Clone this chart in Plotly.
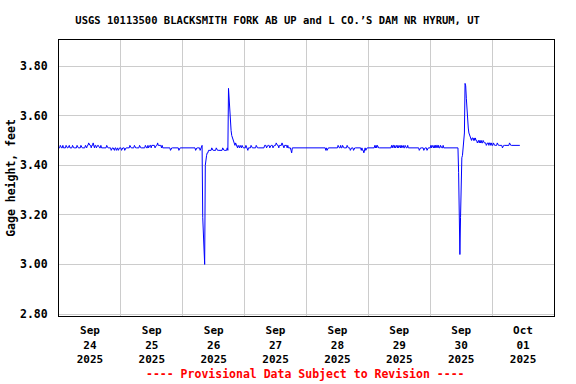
import pandas as pd
import plotly.graph_objects as go

# 15-minute gage-height readings (feet), starting Sep 24 2025 00:00
sep24 = [3.47,3.47,3.48,3.47,3.47,3.47,3.48,3.47,3.47,3.47,3.47,3.48,
         3.47,3.47,3.47,3.48,3.48,3.47,3.47,3.47,3.47,3.48,3.47,3.47,
         3.47,3.47,3.47,3.47,3.48,3.47,3.47,3.47,3.47,3.47,3.48,3.47,
         3.47,3.47,3.47,3.47,3.47,3.48,3.47,3.47,3.48,3.48,3.49,3.48,
         3.48,3.48,3.47,3.48,3.48,3.49,3.48,3.47,3.48,3.48,3.47,3.48,
         3.48,3.48,3.47,3.47,3.47,3.48,3.47,3.47,3.47,3.47,3.47,3.47,
         3.47,3.47,3.48,3.47,3.47,3.47,3.47,3.47,3.47,3.46,3.47,3.47,
         3.47,3.46,3.46,3.47,3.47,3.46,3.47,3.47,3.46,3.47,3.47,3.47]
sep25 = [3.47,3.46,3.47,3.47,3.47,3.47,3.46,3.47,3.47,3.47,3.47,3.47,
         3.47,3.47,3.48,3.47,3.47,3.47,3.47,3.47,3.47,3.48,3.47,3.47,
         3.47,3.47,3.47,3.47,3.47,3.48,3.47,3.47,3.47,3.47,3.47,3.47,
         3.47,3.47,3.48,3.47,3.47,3.47,3.48,3.47,3.48,3.48,3.48,3.47,
         3.48,3.48,3.48,3.48,3.48,3.47,3.48,3.48,3.48,3.49,3.48,3.48,
         3.48,3.48,3.48,3.47,3.48,3.47,3.47,3.47,3.47,3.47,3.47,3.47,
         3.47,3.47,3.47,3.47,3.47,3.46,3.47,3.47,3.47,3.47,3.47,3.47,
         3.47,3.47,3.47,3.47,3.47,3.47,3.46,3.47,3.47,3.47,3.47,3.47]
sep26 = [3.47,3.47,3.47,3.47,3.47,3.47,3.47,3.47,3.47,3.47,3.47,3.47,
         3.47,3.47,3.47,3.47,3.47,3.47,3.47,3.47,3.46,3.47,3.47,3.47,
         3.47,3.47,3.47,3.46,3.47,3.47,3.48,3.19,3.10,3.05,3.00,3.40,
         3.43,3.44,3.45,3.45,3.46,3.46,3.46,3.46,3.46,3.47,3.46,3.46,
         3.46,3.46,3.46,3.46,3.47,3.46,3.46,3.46,3.46,3.46,3.46,3.46,
         3.46,3.46,3.47,3.46,3.46,3.46,3.46,3.46,3.46,3.47,3.46,3.71,
         3.66,3.60,3.56,3.54,3.52,3.51,3.50,3.49,3.49,3.48,3.49,3.48,
         3.48,3.47,3.48,3.47,3.47,3.48,3.47,3.47,3.48,3.47,3.47,3.47]
sep27 = [3.47,3.47,3.48,3.47,3.47,3.46,3.47,3.47,3.47,3.47,3.48,3.47,
         3.47,3.47,3.47,3.47,3.47,3.47,3.48,3.47,3.47,3.47,3.47,3.47,
         3.47,3.47,3.47,3.47,3.47,3.47,3.47,3.48,3.48,3.48,3.47,3.48,
         3.48,3.48,3.48,3.47,3.48,3.48,3.48,3.48,3.47,3.48,3.48,3.48,
         3.48,3.49,3.48,3.48,3.48,3.47,3.48,3.48,3.48,3.48,3.49,3.48,
         3.48,3.47,3.48,3.48,3.48,3.48,3.47,3.48,3.47,3.47,3.47,3.47,
         3.46,3.45,3.47,3.47,3.47,3.47,3.47,3.47,3.47,3.47,3.47,3.47,
         3.47,3.47,3.47,3.47,3.47,3.47,3.47,3.47,3.47,3.47,3.47,3.47]
sep28 = [3.47,3.47,3.47,3.47,3.47,3.47,3.47,3.47,3.47,3.47,3.47,3.47,
         3.47,3.47,3.47,3.47,3.47,3.47,3.47,3.47,3.47,3.47,3.47,3.47,
         3.47,3.47,3.47,3.47,3.47,3.47,3.46,3.47,3.46,3.47,3.47,3.47,
         3.47,3.47,3.47,3.47,3.47,3.47,3.47,3.47,3.47,3.47,3.47,3.47,
         3.47,3.48,3.47,3.47,3.47,3.48,3.47,3.47,3.48,3.47,3.47,3.47,
         3.47,3.47,3.47,3.48,3.47,3.47,3.47,3.47,3.46,3.47,3.47,3.47,
         3.47,3.46,3.47,3.47,3.47,3.47,3.47,3.47,3.47,3.47,3.47,3.47,
         3.47,3.46,3.47,3.46,3.46,3.45,3.46,3.47,3.46,3.47,3.47,3.47]
sep29 = [3.47,3.47,3.47,3.47,3.47,3.47,3.47,3.47,3.47,3.47,3.48,3.47,
         3.48,3.47,3.48,3.47,3.47,3.47,3.47,3.47,3.47,3.47,3.47,3.47,
         3.47,3.47,3.47,3.47,3.47,3.47,3.47,3.47,3.47,3.47,3.47,3.47,
         3.48,3.47,3.48,3.48,3.47,3.48,3.47,3.48,3.48,3.47,3.48,3.47,
         3.48,3.48,3.47,3.48,3.47,3.48,3.48,3.47,3.47,3.48,3.47,3.47,
         3.47,3.48,3.47,3.47,3.47,3.47,3.47,3.47,3.47,3.47,3.47,3.47,
         3.47,3.47,3.47,3.47,3.47,3.47,3.47,3.46,3.47,3.47,3.47,3.47,
         3.47,3.47,3.46,3.47,3.47,3.47,3.47,3.46,3.47,3.47,3.47,3.47]
sep30 = [3.47,3.48,3.47,3.48,3.47,3.47,3.48,3.47,3.48,3.47,3.48,3.48,
         3.47,3.48,3.47,3.47,3.48,3.47,3.47,3.47,3.48,3.47,3.47,3.47,
         3.47,3.47,3.47,3.47,3.47,3.47,3.47,3.47,3.47,3.47,3.47,3.47,
         3.47,3.47,3.47,3.47,3.47,3.47,3.47,3.47,3.37,3.10,3.04,3.19,
         3.42,3.43,3.44,3.47,3.49,3.53,3.73,3.72,3.67,3.62,3.58,3.55,
         3.53,3.52,3.51,3.50,3.50,3.51,3.51,3.50,3.51,3.50,3.51,3.50,
         3.50,3.49,3.50,3.50,3.49,3.50,3.49,3.50,3.49,3.49,3.50,3.49,
         3.49,3.49,3.49,3.48,3.49,3.49,3.49,3.48,3.49,3.49,3.48,3.49]
oct01 = [3.48,3.48,3.49,3.48,3.48,3.48,3.48,3.48,3.49,3.48,3.48,3.48,
         3.48,3.48,3.48,3.48,3.47,3.48,3.48,3.48,3.48,3.48,3.48,3.48,
         3.48,3.48,3.48,3.49,3.48,3.48,3.48,3.48,3.48,3.48,3.48,3.48,
         3.48,3.48,3.48,3.48,3.48,3.48,3.48,3.48]

day_labels = ["Sep<br>24<br>2025", "Sep<br>25<br>2025", "Sep<br>26<br>2025",
              "Sep<br>27<br>2025", "Sep<br>28<br>2025", "Sep<br>29<br>2025",
              "Sep<br>30<br>2025", "Oct<br>01<br>2025"]
title_text = "USGS 10113500 BLACKSMITH FORK AB UP and L CO.\u2019S DAM NR HYRUM, UT"

values = sep24 + sep25 + sep26 + sep27 + sep28 + sep29 + sep30 + oct01
times = pd.date_range("2025-09-24 00:00", periods=len(values), freq="15min")
label_pos = pd.date_range("2025-09-24 12:00", periods=len(day_labels), freq="1D")

FONT = "DejaVu Sans Mono"

fig = go.Figure()
fig.add_trace(go.Scatter(x=times, y=values, mode="lines",
                         line=dict(color="#0000FF", width=1),
                         hoverinfo="skip", showlegend=False))

fig.update_layout(
    width=576, height=384,
    margin=dict(l=59, r=22, t=40, b=68, autoexpand=False),
    paper_bgcolor="white", plot_bgcolor="white",
    title=dict(text="<b>" + title_text + "</b>", xref="container", x=0.482,
               xanchor="center", y=0.948, yanchor="middle",
               font=dict(family=FONT, size=10.5, color="black")),
    font=dict(family=FONT, color="black"),
)

fig.update_xaxes(
    range=["2025-09-24 00:00", "2025-10-02 00:00"], automargin=False,
    tickmode="array", tickvals=label_pos,
    ticktext=["<b>" + t + "</b>" for t in day_labels],
    tickfont=dict(family=FONT, size=11, color="black"),
    showgrid=False, ticks="", zeroline=False, ticklabelstandoff=4,
    showline=True, linecolor="black", linewidth=1, mirror=True,
    minor=dict(tick0="2025-09-24 00:00", dtick=86400000, showgrid=True,
               gridcolor="#cccccc", gridwidth=1, ticks=""),
)
fig.update_yaxes(
    range=[2.792, 3.905], tick0=2.8, dtick=0.2, tickformat=".2f", automargin=False,
    tickfont=dict(family=FONT, size=11.5, color="black"),
    showgrid=True, gridcolor="#cccccc", gridwidth=1, ticks="",
    ticklabelstandoff=8, zeroline=False,
    showline=True, linecolor="black", linewidth=1, mirror=True,
    title=dict(text="<b>Gage height, feet</b>", standoff=1,
               font=dict(family=FONT, size=11.5, color="black")),
    tickprefix="<b>", ticksuffix="</b>",
)

fig.add_annotation(text="<b>---- Provisional Data Subject to Revision ----</b>",
                   xref="paper", yref="paper", x=(305 - 59) / (576 - 59 - 22),
                   y=-(374 - 316) / (316 - 40), xanchor="center", yanchor="middle",
                   showarrow=False, font=dict(family=FONT, size=11.5, color="red"))

fig.write_html("out.html", config={"displayModeBar": False},
               post_script="document.body.style.margin='0';")
